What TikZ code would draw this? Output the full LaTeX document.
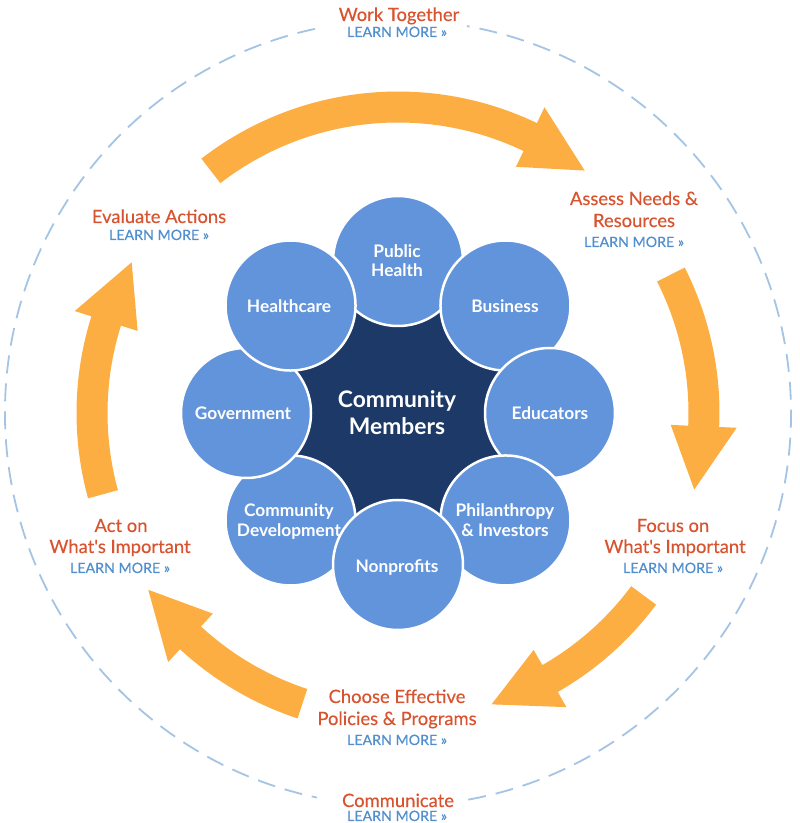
\documentclass[tikz,border=0pt]{standalone}
\usepackage{fontspec}
\setmainfont{Lato}
\newfontfamily\lblfont[FakeBold=0.35]{Lato}
\usetikzlibrary{shapes.geometric}
\definecolor{orangeText}{RGB}{216,84,48}
\definecolor{learnBlue}{RGB}{80,142,205}
\definecolor{arrowOrange}{RGB}{252,174,66}
\definecolor{petalBlue}{RGB}{98,148,220}
\definecolor{navyCore}{RGB}{29,57,104}
\definecolor{dashBlue}{RGB}{164,196,228}
\newcommand\flowarrow[2]{%
  \fill[flow] ([shift={(#1:321.5)}]C) arc[start angle=#1, end angle={#2+12}, radius=321.5]
    -- ([shift={({#2+12}:339)}]C) -- ([shift={(#2:306)}]C) -- ([shift={({#2+12}:273)}]C)
    -- ([shift={({#2+12}:290.5)}]C) arc[start angle={#2+12}, end angle=#1, radius=290.5] -- cycle;}
\begin{document}
\begin{tikzpicture}[x=1pt,y=1pt,
  petal/.style={circle, fill=petalBlue, draw=white, line width=2.5pt, minimum size=130pt, inner sep=0pt},
  ptxt/.style={text=white, font=\bfseries\fontsize{17.3}{20}\selectfont, anchor=base, inner sep=0pt},
  ctxt/.style={text=white, font=\bfseries\fontsize{22.8}{27}\selectfont, anchor=base, inner sep=0pt},
  lbl/.style={text=orangeText, font=\lblfont\fontsize{18.4}{21}\selectfont, anchor=base, inner sep=0pt},
  lm/.style={text=learnBlue, font=\lblfont\fontsize{14.2}{16}\selectfont, anchor=base, inner sep=0pt},
  flow/.style={fill=arrowOrange},
  ring/.style={draw=dashBlue, line width=1.8pt, dash pattern=on 18pt off 10pt}
]
\useasboundingbox (0,0) rectangle (800,823);
\coordinate (C) at (398,410);

% dashed outer ring
\draw[ring] ([shift={(102.2:393)}]C) arc[start angle=102.2, end angle=258.1, radius=393];
\draw[ring] ([shift={(280.3:393)}]C) arc[start angle=280.3, end angle=439.9, radius=393];

% cycle arrows
\flowarrow{127.7}{52.4}
\flowarrow{26.9}{-14.5}
\flowarrow{-36.6}{-72.2}
\flowarrow{-108.2}{-144.7}
\flowarrow{195.4}{150.5}

% core
\node[regular polygon, regular polygon sides=8, minimum size=224pt, inner sep=0pt, fill=navyCore] (core) at (C) {};

% petals
\foreach \n/\a in {ph/90, bu/45, ed/0, phi/-45, cd/-135, np/-90, gov/180, hc/135}
  \node[petal] (\n) at ([shift={(\a:152)}]C) {};

\node[ptxt] (phA) at (397,565) {Public};
\node[ptxt] (phB) at (397,546) {Health};
\node[ptxt] (hcA) at (289,510) {Healthcare};
\node[ptxt] (buA) at (505,510) {Business};
\node[ptxt] (govA) at (243,403) {Government};
\node[ptxt] (edA) at (550,403) {Educators};
\node[ptxt] (cdA) at (289,306) {Community};
\node[ptxt] (cdB) at (289,286) {Development};
\node[ptxt] (phiA) at (505,306) {Philanthropy};
\node[ptxt] (phiB) at (505,286) {\& Investors};
\node[ptxt] (npA) at (397,250) {Nonprofits};
\node[ctxt] (cmA) at (397,415) {Community};
\node[ctxt] (cmB) at (397,388) {Members};

% stage labels
\node[lbl] (wtA) at (399,802) {Work Together};
\node[lm] (wtL) at (397,786) {LEARN MORE »};

\node[lbl] (anA) at (634,618) {Assess Needs \&};
\node[lbl] (anB) at (634,596) {Resources};
\node[lm] (anL) at (634,576) {LEARN MORE »};

\node[lbl] (foA) at (673,291) {Focus on};
\node[lbl] (foB) at (675,270) {What's Important};
\node[lm] (foL) at (673,250) {LEARN MORE »};

\node[lbl] (chA) at (397,120) {Choose Effective};
\node[lbl] (chB) at (397,98) {Policies \& Programs};
\node[lm] (chL) at (397,78) {LEARN MORE »};

\node[lbl] (coA) at (398,16) {Communicate};
\node[lm] (coL) at (397,2) {LEARN MORE »};

\node[lbl] (evA) at (159,600) {Evaluate Actions};
\node[lm] (evL) at (159,583) {LEARN MORE »};

\node[lbl] (acA) at (121,291) {Act on};
\node[lbl] (acB) at (120,270) {What's Important};
\node[lm] (acL) at (120,250) {LEARN MORE »};
\end{tikzpicture}
\end{document}
